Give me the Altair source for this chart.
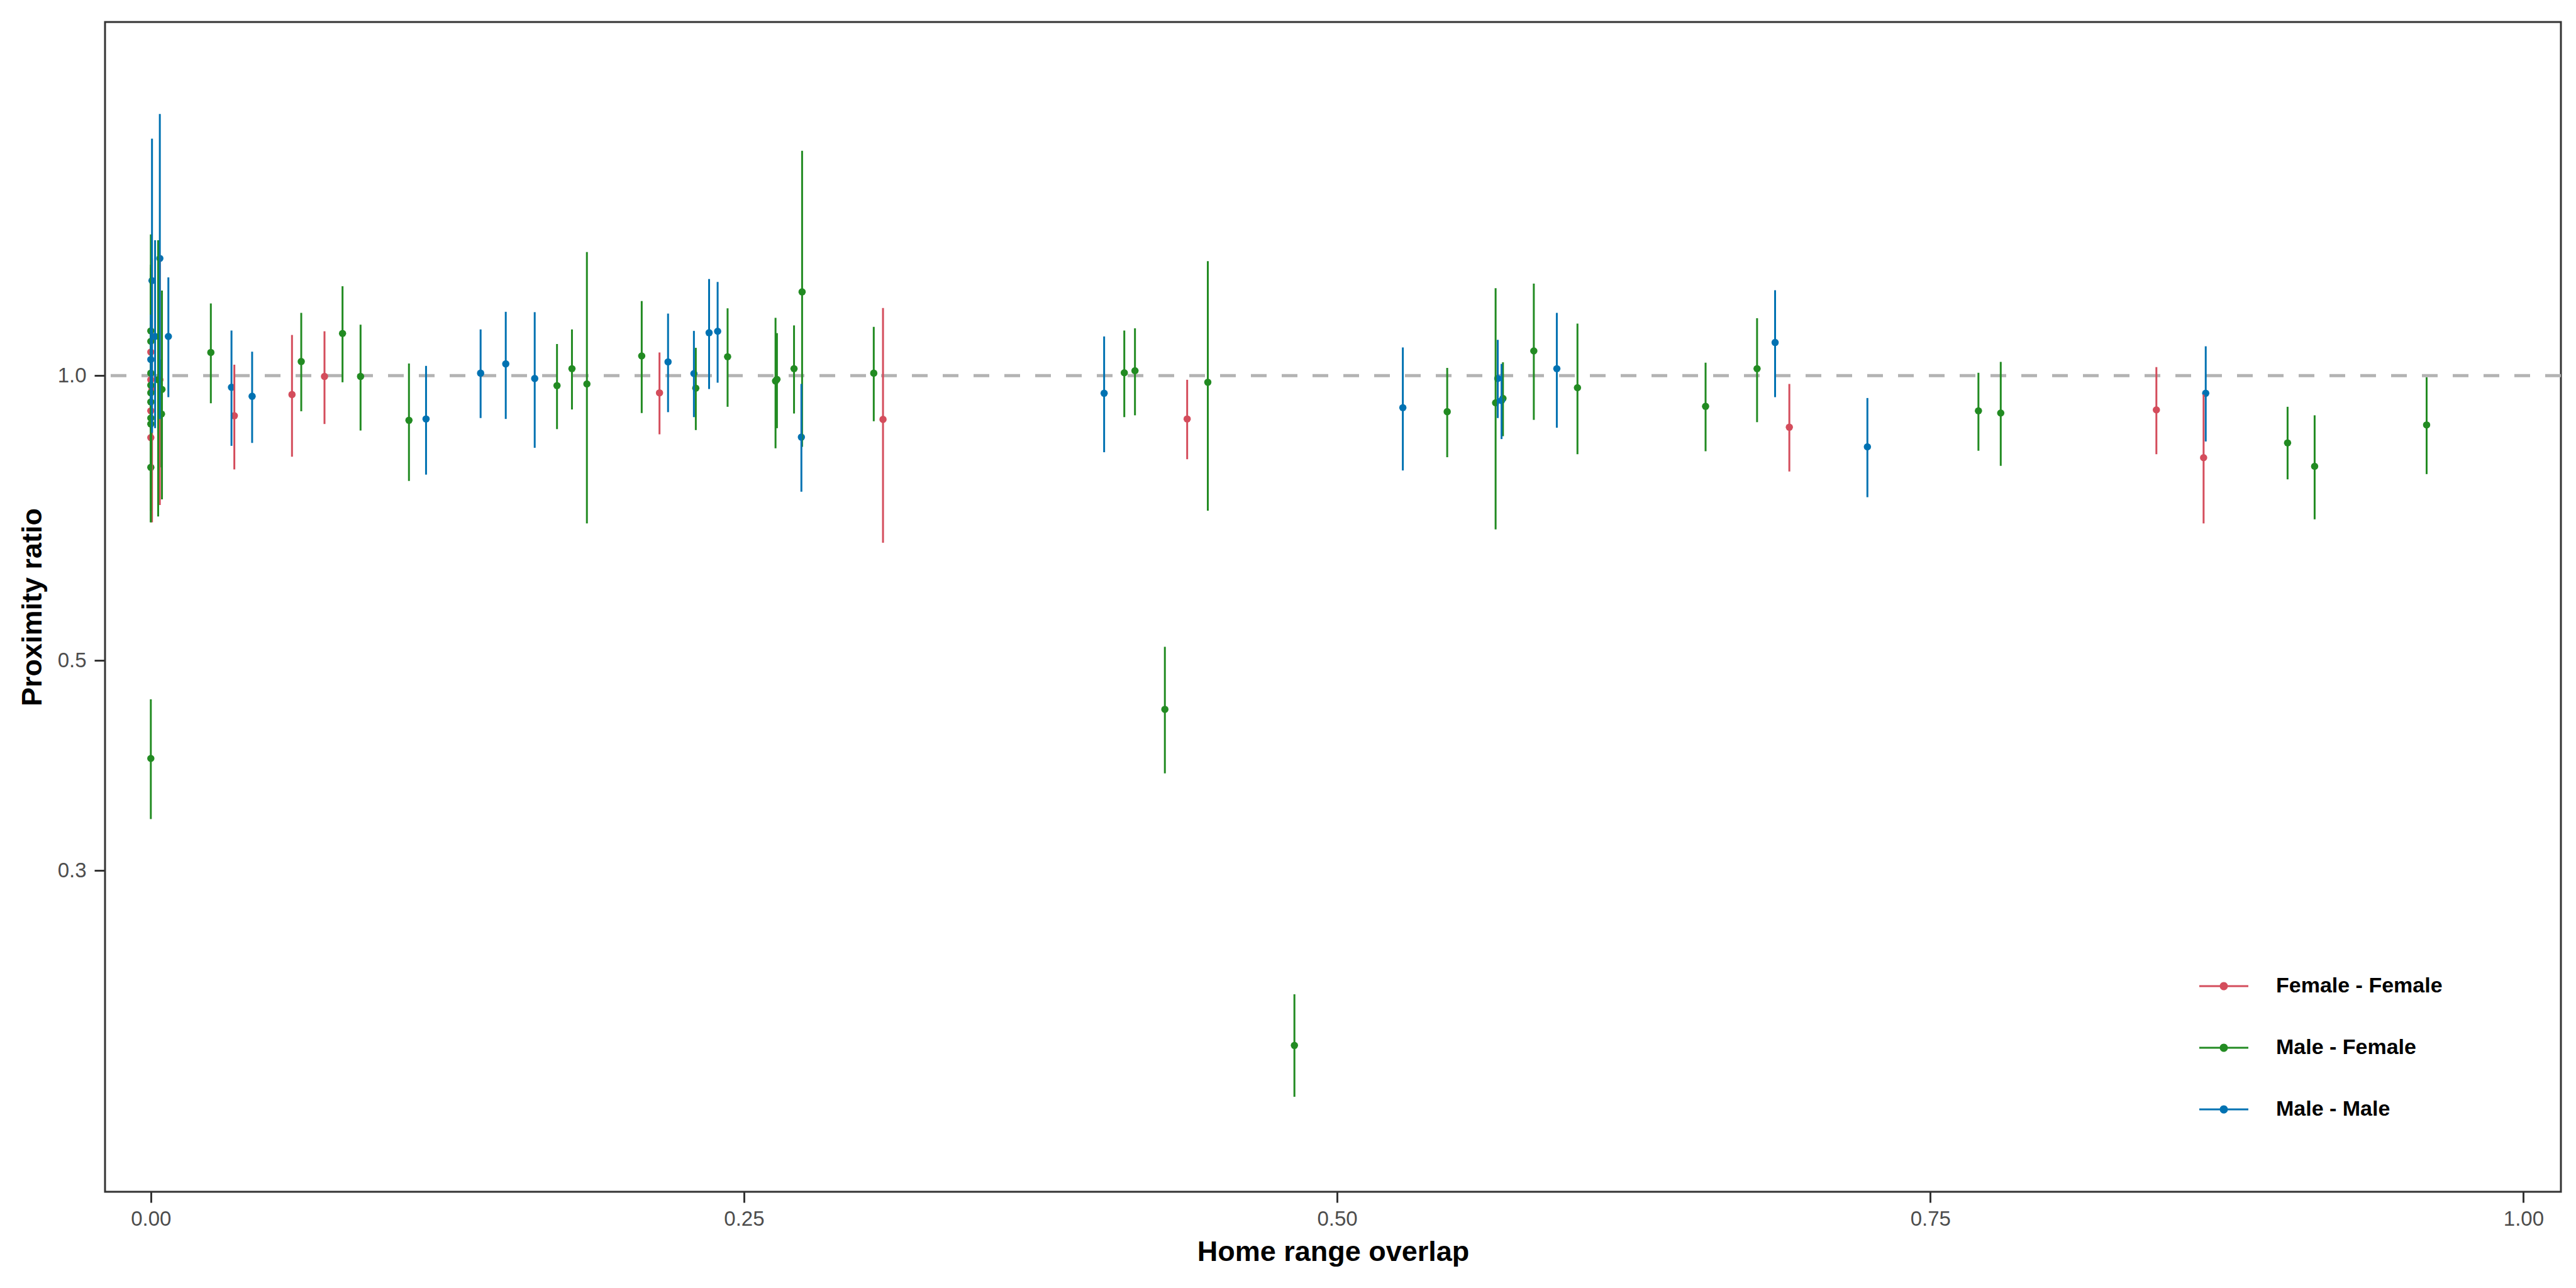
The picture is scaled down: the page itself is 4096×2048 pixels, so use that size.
import altair as alt
import pandas as pd

# ---------------- data ----------------
ff_x  = [0.0, 0.0, 0.0005, 0.0, 0.0, 0.0038, 0.0352, 0.0595, 0.0732, 0.2144, 0.3086, 0.4368, 0.6906, 0.8453, 0.8652]
ff_y  = [1.059, 0.99, 0.967, 0.918, 0.86, 0.99, 0.907, 0.955, 0.998, 0.959, 0.899, 0.900, 0.882, 0.920, 0.819]
ff_lo = [0.86, 0.82, 0.70, 0.78, 0.74, 0.73, 0.796, 0.821, 0.889, 0.867, 0.666, 0.816, 0.792, 0.826, 0.698]
ff_hi = [1.30, 1.20, 1.33, 1.08, 1.00, 1.34, 1.027, 1.104, 1.114, 1.058, 1.179, 0.990, 0.980, 1.021, 0.955]

mf_x  = [0.0, 0.0, 0.0, 0.0, 0.0, 0.0, 0.0, 0.0, 0.0, 0.0031, 0.0047, 0.0045, 0.0,
         0.0253, 0.0634, 0.0808, 0.0884, 0.1088, 0.1712, 0.1775, 0.1838, 0.2069, 0.2297,
         0.2431, 0.2633, 0.2639, 0.2711, 0.2745, 0.3047, 0.4103, 0.4148, 0.4274, 0.4455,
         0.482, 0.5464, 0.5668, 0.5699, 0.5829, 0.6013, 0.6553, 0.677, 0.7703, 0.7797,
         0.9006, 0.912, 0.9592]
mf_y  = [1.115, 1.087, 1.006, 0.977, 0.959, 0.938, 0.902, 0.889, 0.80, 0.99, 0.967, 0.911, 0.394,
         1.058, 1.035, 1.108, 0.998, 0.897, 0.976, 1.017, 0.980, 1.049, 0.970,
         1.047, 0.987, 0.991, 1.017, 1.226, 1.006, 1.007, 1.012, 0.444, 0.984,
         0.196, 0.916, 0.936, 0.946, 1.062, 0.971, 0.928, 1.017, 0.918, 0.913,
         0.849, 0.802, 0.887]
mf_lo = [0.95, 0.92, 0.70, 0.80, 0.82, 0.78, 0.76, 0.72, 0.70, 0.71, 0.74, 0.80, 0.340,
         0.935, 0.917, 0.984, 0.875, 0.774, 0.878, 0.921, 0.698, 0.913, 0.876,
         0.927, 0.838, 0.880, 0.912, 0.841, 0.895, 0.904, 0.908, 0.380, 0.720,
         0.173, 0.820, 0.688, 0.863, 0.898, 0.826, 0.832, 0.893, 0.833, 0.803,
         0.777, 0.705, 0.787]
mf_hi = [1.31, 1.28, 1.41, 1.20, 1.13, 1.13, 1.07, 1.10, 0.92, 1.39, 1.23, 1.04, 0.455,
         1.192, 1.165, 1.243, 1.132, 1.030, 1.080, 1.119, 1.351, 1.199, 1.070,
         1.178, 1.151, 1.109, 1.130, 1.728, 1.126, 1.116, 1.122, 0.517, 1.321,
         0.222, 1.019, 1.237, 1.033, 1.251, 1.135, 1.032, 1.150, 1.007, 1.034,
         0.927, 0.908, 0.996]

mm_x  = [0.0005, 0.0038, 0.0018, 0.0, 0.0074, 0.034, 0.0427, 0.116, 0.139, 0.1496, 0.1618,
         0.218, 0.2289, 0.2353, 0.2389, 0.2742, 0.4018, 0.5277, 0.5677, 0.5693, 0.5926,
         0.6846, 0.7235, 0.8661]
mm_y  = [1.26, 1.33, 1.10, 1.04, 1.10, 0.972, 0.951, 0.900, 1.006, 1.029, 0.993,
         1.034, 1.005, 1.110, 1.114, 0.861, 0.958, 0.925, 0.993, 0.941, 1.017,
         1.084, 0.841, 0.958]
mm_lo = [0.87, 0.90, 0.88, 0.93, 0.949, 0.843, 0.849, 0.786, 0.902, 0.900, 0.839,
         0.915, 0.904, 0.968, 0.983, 0.754, 0.830, 0.794, 0.902, 0.857, 0.881,
         0.949, 0.744, 0.852]
mm_hi = [1.78, 1.89, 1.39, 1.16, 1.27, 1.116, 1.060, 1.024, 1.119, 1.168, 1.167,
         1.163, 1.115, 1.265, 1.256, 0.980, 1.100, 1.071, 1.091, 1.029, 1.165,
         1.231, 0.947, 1.074]

group_names = ["Female - Female", "Male - Female", "Male - Male"]
group_colors = ["#D44D5C", "#228B22", "#0072B2"]

x_ticks = [0, 0.25, 0.5, 0.75, 1.0]
y_ticks = [0.3, 0.5, 1.0]

# ---------------- table ----------------
rows = []
for name, xs, ys, los, his in [
    (group_names[0], ff_x, ff_y, ff_lo, ff_hi),
    (group_names[1], mf_x, mf_y, mf_lo, mf_hi),
    (group_names[2], mm_x, mm_y, mm_lo, mm_hi),
]:
    for a, b, c, d in zip(xs, ys, los, his):
        rows.append({"overlap": a, "ratio": b, "lo": c, "hi": d, "pair": name})
df = pd.DataFrame(rows)
ref = pd.DataFrame({"ratio": [1.0]})

FONT = "Liberation Sans"

xscale = alt.Scale(domain=[-0.0193, 1.0158], nice=False, zero=False)
yscale = alt.Scale(type="log", domain=[0.1373, 2.364], nice=False)

xaxis = alt.Axis(values=x_ticks, format=".2f", title="Home range overlap",
                 grid=False, domain=False, ticks=True, tickSize=17, tickWidth=3,
                 tickColor="#333333", labelFont=FONT, labelFontSize=33, labelColor="#4D4D4D",
                 labelPadding=10, titleFont=FONT, titleFontSize=45, titleFontWeight="bold",
                 titleColor="black", titleBaseline="alphabetic", titleY=109)
yaxis = alt.Axis(values=y_ticks, format=".1f", title="Proximity ratio",
                 grid=False, domain=False, ticks=True, tickSize=17, tickWidth=3,
                 tickColor="#333333", labelFont=FONT, labelFontSize=33, labelColor="#4D4D4D",
                 labelPadding=13, titleFont=FONT, titleFontSize=45, titleFontWeight="bold",
                 titleColor="black", titleAngle=270, titleBaseline="alphabetic",
                 titleX=-102, titleY=930, titleAlign="center")

color_scale = alt.Scale(domain=group_names, range=group_colors)

legend_path = ("M-1,-0.04H1V0.04H-1Z "
               "M-0.167,0A0.167,0.167 0 1,1 0.167,0A0.167,0.167 0 1,1 -0.167,0Z")

hline = alt.Chart(ref).mark_rule(color="#B3B3B3", strokeWidth=5, strokeDash=[25, 24]).encode(
    y=alt.Y("ratio:Q", scale=yscale, axis=yaxis)
)

points = alt.Chart(df).mark_point(filled=True, opacity=1, size=133).encode(
    x=alt.X("overlap:Q", scale=xscale, axis=xaxis),
    y=alt.Y("ratio:Q", scale=yscale, axis=yaxis),
    color=alt.Color("pair:N", scale=color_scale,
                    legend=alt.Legend(title=None, orient="none", legendX=3330, legendY=1494,
                                      symbolType=legend_path, symbolSize=6084,
                                      symbolStrokeWidth=0, symbolOpacity=1,
                                      labelFont=FONT, labelFontSize=34, labelFontWeight="bold",
                                      labelColor="black", labelOffset=44, rowPadding=42,
                                      padding=0, labelLimit=1000)),
)

bars = alt.Chart(df).mark_rule(strokeWidth=3).encode(
    x=alt.X("overlap:Q", scale=xscale, axis=xaxis),
    y=alt.Y("lo:Q", scale=yscale, axis=yaxis),
    y2="hi:Q",
    color=alt.Color("pair:N", scale=color_scale, legend=None),
)

chart = alt.layer(hline, points, bars).properties(
    width=3905, height=1860,
    autosize=alt.AutoSizeParams(type="none"),
    padding={"left": 167, "top": 35, "right": 24, "bottom": 153},
    background="white",
).configure_view(stroke="#333333", strokeWidth=3)

chart.save("out.html", embed_options={"renderer": "svg", "actions": False})
